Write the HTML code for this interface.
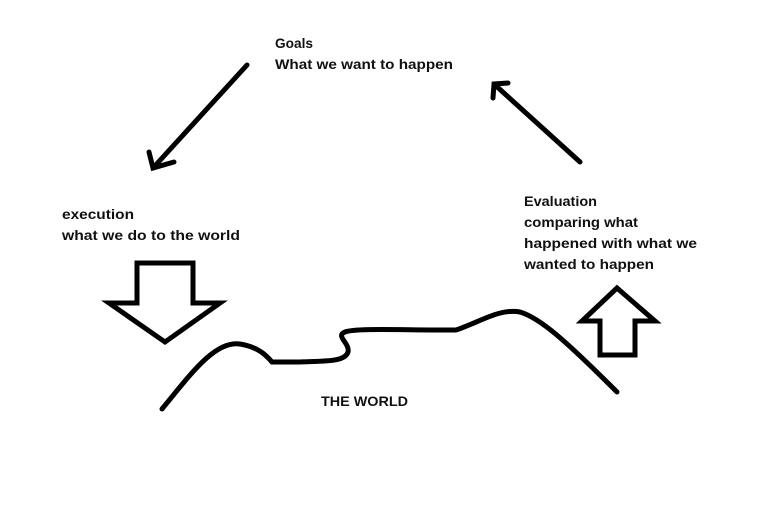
<!DOCTYPE html>
<html><head><meta charset="utf-8"><style>
html,body{margin:0;padding:0;background:#fff;}
svg{display:block;}
text{font-family:"Liberation Sans",sans-serif;font-size:14px;font-weight:bold;fill:#111;}
</style></head><body>
<svg width="783" height="531" viewBox="0 0 783 531" xmlns="http://www.w3.org/2000/svg">
<rect width="783" height="531" fill="#fff"/>
<g fill="none" stroke="#000" stroke-width="5" stroke-linecap="round" stroke-linejoin="miter">
<line x1="247" y1="65" x2="153" y2="168"/>
<polyline points="149,152 153,168 174,162"/>
<line x1="580" y1="162" x2="494" y2="84"/>
<polyline points="493,98 494,84 508,83"/>
<polygon points="137,263 193,263 193,303 220,303 165,342 109,303 137,303"/>
<polygon points="617,288 655,321 635,321 635,355 600,355 600,321 582,321"/>
<path d="M162,409 C190,375 215,340 240,344 C258,347 266,355 272,362 L300,362 C325,361 345,362 348,352 C350,343 335,336 345,332 C355,328 400,330 445,330 L456,330 C480,322 500,308 520,312 C540,318 565,340 617,392"/>
</g>
<text x="275" y="48" textLength="38" lengthAdjust="spacingAndGlyphs">Goals</text>
<text x="275" y="69" textLength="178" lengthAdjust="spacingAndGlyphs">What we want to happen</text>
<text x="62" y="219" textLength="72" lengthAdjust="spacingAndGlyphs">execution</text>
<text x="62" y="240" textLength="178" lengthAdjust="spacingAndGlyphs">what we do to the world</text>
<text x="524" y="206" textLength="73" lengthAdjust="spacingAndGlyphs">Evaluation</text>
<text x="524" y="227" textLength="114" lengthAdjust="spacingAndGlyphs">comparing what</text>
<text x="524" y="248" textLength="173" lengthAdjust="spacingAndGlyphs">happened with what we</text>
<text x="524" y="269" textLength="130" lengthAdjust="spacingAndGlyphs">wanted to happen</text>
<text x="321" y="406" textLength="87" lengthAdjust="spacingAndGlyphs">THE WORLD</text>
</svg>
</body></html>
